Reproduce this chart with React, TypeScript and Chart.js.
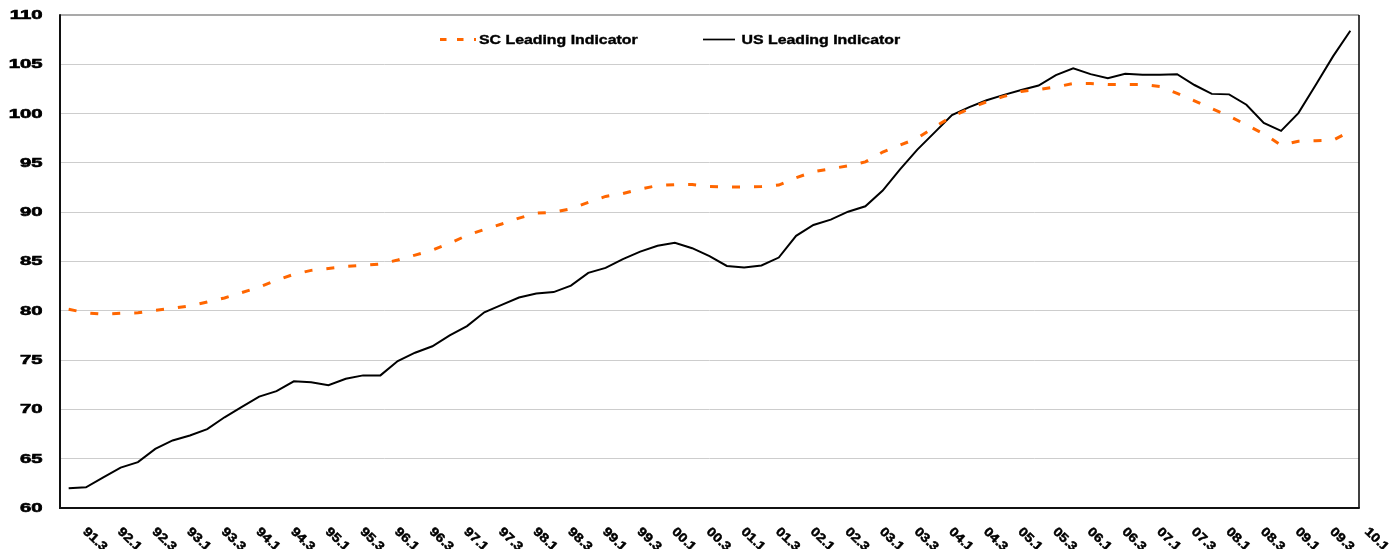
import React, { useEffect, useRef } from 'react';
import { Chart, registerables } from 'chart.js';

Chart.register(...registerables);

const categories: string[] = [
  '91.3', '91.4',
  '92.1', '92.2', '92.3', '92.4',
  '93.1', '93.2', '93.3', '93.4',
  '94.1', '94.2', '94.3', '94.4',
  '95.1', '95.2', '95.3', '95.4',
  '96.1', '96.2', '96.3', '96.4',
  '97.1', '97.2', '97.3', '97.4',
  '98.1', '98.2', '98.3', '98.4',
  '99.1', '99.2', '99.3', '99.4',
  '00.1', '00.2', '00.3', '00.4',
  '01.1', '01.2', '01.3', '01.4',
  '02.1', '02.2', '02.3', '02.4',
  '03.1', '03.2', '03.3', '03.4',
  '04.1', '04.2', '04.3', '04.4',
  '05.1', '05.2', '05.3', '05.4',
  '06.1', '06.2', '06.3', '06.4',
  '07.1', '07.2', '07.3', '07.4',
  '08.1', '08.2', '08.3', '08.4',
  '09.1', '09.2', '09.3', '09.4',
  '10.1',
];

const scValues: number[] = [
  80.15, 79.8, 79.65, 79.75, 79.8, 80.05, 80.25, 80.5, 80.9, 81.3,
  81.85, 82.4, 83.1, 83.7, 84.1, 84.3, 84.5, 84.6, 84.75, 85.15,
  85.65, 86.15, 86.85, 87.65, 88.25, 88.8, 89.4, 89.9, 90.0, 90.35,
  91.0, 91.6, 91.9, 92.35, 92.7, 92.8, 92.8, 92.6, 92.55, 92.55,
  92.6, 92.75, 93.5, 94.1, 94.4, 94.7, 95.1, 96.1, 96.8, 97.5,
  98.65, 99.7, 100.5, 101.2, 101.75, 102.25, 102.45, 102.7, 103.05, 103.05,
  102.95, 102.95, 102.95, 102.75, 102.05, 101.3, 100.5, 99.75, 98.85, 97.95,
  96.8, 97.2, 97.25, 97.3, 98.2,
];

const usValues: number[] = [
  62.0, 62.1, 63.1, 64.1, 64.65, 66.0, 66.85, 67.35, 68.0, 69.2,
  70.25, 71.3, 71.85, 72.85, 72.75, 72.45, 73.1, 73.45, 73.45, 74.9,
  75.75, 76.4, 77.5, 78.45, 79.85, 80.6, 81.35, 81.75, 81.9, 82.55,
  83.85, 84.35, 85.25, 86.0, 86.6, 86.9, 86.35, 85.55, 84.55, 84.4,
  84.6, 85.4, 87.6, 88.7, 89.25, 90.05, 90.6, 92.2, 94.35, 96.35,
  98.1, 99.85, 100.65, 101.35, 101.9, 102.4, 102.85, 103.9, 104.6, 104.0,
  103.6, 104.05, 103.95, 103.95, 104.0, 102.9, 102.0, 101.95, 100.9, 99.05,
  98.25, 100.05, 102.9, 105.8, 108.4,
];

const yTicks: number[] = [60, 65, 70, 75, 80, 85, 90, 95, 100, 105, 110];
const seriesNames: string[] = ['SC Leading Indicator', 'US Leading Indicator'];

const FONT = '"Liberation Sans", Arial, Helvetica, sans-serif';
const ORANGE = '#FF6600';

function heavyText(ctx: CanvasRenderingContext2D, t: string, w: number) {
  ctx.fillText(t, 0, 0);
  ctx.lineWidth = w;
  ctx.strokeStyle = '#000';
  ctx.strokeText(t, 0, 0);
}

const decorPlugin = {
  id: 'decor',
  beforeDatasetsDraw(chart: any) {
    const { ctx, chartArea: a } = chart;
    ctx.save();
    ctx.setLineDash([]);
    ctx.strokeStyle = '#8c8c8c';
    ctx.lineWidth = 1.5;
    ctx.beginPath();
    ctx.moveTo(a.left, a.top);
    ctx.lineTo(a.right, a.top);
    ctx.stroke();
    ctx.strokeStyle = '#000';
    ctx.lineWidth = 1.5;
    ctx.beginPath();
    ctx.moveTo(a.right, a.top);
    ctx.lineTo(a.right, a.bottom);
    ctx.stroke();
    ctx.lineWidth = 2;
    ctx.strokeStyle = '#111';
    ctx.beginPath();
    ctx.moveTo(a.left, a.top - 0.75);
    ctx.lineTo(a.left, a.bottom);
    ctx.lineTo(a.right + 0.75, a.bottom);
    ctx.stroke();
    ctx.restore();
  },
  afterDraw(chart: any) {
    const { ctx } = chart;
    const xs = chart.scales.x;
    const ys = chart.scales.y;
    ctx.save();
    ctx.fillStyle = '#000';

    // y labels
    ctx.font = `bold 12.5px ${FONT}`;
    ctx.textAlign = 'right';
    ctx.textBaseline = 'middle';
    yTicks.forEach((v) => {
      const y = ys.getPixelForValue(v);
      ctx.save();
      ctx.translate(chart.chartArea.left - 17.5, y + 0.5);
      ctx.scale(1.62, 1);
      heavyText(ctx, String(v), 0.6);
      ctx.restore();
    });

    // x labels (every other category), rotated clockwise
    ctx.textAlign = 'left';
    ctx.textBaseline = 'middle';
    ctx.font = `bold 12.5px ${FONT}`;
    categories.forEach((lab, i) => {
      if (i % 2 !== 0) return;
      const x = xs.getPixelForValue(i);
      ctx.save();
      ctx.translate(x + 16, chart.chartArea.bottom + 22);
      ctx.rotate((43 * Math.PI) / 180);
      ctx.scale(1.15, 1);
      heavyText(ctx, lab, 0.5);
      ctx.restore();
    });

    // legend
    const ly = 31.5;
    ctx.lineCap = 'butt';
    ctx.strokeStyle = ORANGE;
    ctx.lineWidth = 3;
    ctx.setLineDash([6.5, 10.5]);
    ctx.beginPath();
    ctx.moveTo(432, ly);
    ctx.lineTo(468, ly);
    ctx.stroke();
    ctx.setLineDash([]);
    ctx.strokeStyle = '#000';
    ctx.lineWidth = 1.7;
    ctx.beginPath();
    ctx.moveTo(695, ly);
    ctx.lineTo(727, ly);
    ctx.stroke();

    ctx.font = `bold 13px ${FONT}`;
    ctx.textAlign = 'left';
    ctx.textBaseline = 'middle';
    [
      { t: seriesNames[0], x: 471 },
      { t: seriesNames[1], x: 733.5 },
    ].forEach(({ t, x }) => {
      ctx.save();
      ctx.translate(x, ly + 1);
      ctx.scale(1.22, 1);
      heavyText(ctx, t, 0.4);
      ctx.restore();
    });
    ctx.restore();
  },
};

export default function App() {
  const canvasRef = useRef<HTMLCanvasElement | null>(null);

  useEffect(() => {
    if (!canvasRef.current) return;
    const chart = new Chart(canvasRef.current, {
      type: 'line',
      data: {
        labels: categories,
        datasets: [
          {
            label: seriesNames[0],
            data: scValues,
            borderColor: ORANGE,
            borderWidth: 3,
            borderDash: [8, 14],
            pointRadius: 0,
            tension: 0,
            fill: false,
          },
          {
            label: seriesNames[1],
            data: usValues,
            borderColor: '#000',
            borderWidth: 2,
            pointRadius: 0,
            tension: 0,
            fill: false,
          },
        ],
      },
      options: {
        responsive: false,
        maintainAspectRatio: false,
        animation: false,
        devicePixelRatio: 1,
        layout: { padding: { left: 52, right: 31, top: 7, bottom: 41 } },
        plugins: {
          legend: { display: false },
          tooltip: { enabled: false },
          title: { display: false },
        },
        scales: {
          x: {
            type: 'category',
            offset: true,
            grid: { display: false, drawTicks: false },
            border: { display: false },
            ticks: { display: false },
            afterFit: (s: any) => {
              s.height = 0;
            },
          },
          y: {
            min: 60,
            max: 110,
            grid: {
              drawTicks: false,
              color: (c: any) =>
                c.tick && (c.tick.value === 60 || c.tick.value === 110)
                  ? 'rgba(0,0,0,0)'
                  : '#cdcdcd',
              lineWidth: 1,
            },
            border: { display: false },
            ticks: { display: false, stepSize: 5 },
            afterFit: (s: any) => {
              s.width = 0;
            },
          },
        },
      },
      plugins: [decorPlugin],
    });
    return () => chart.destroy();
  }, []);

  return (
    <div style={{ width: 1382, height: 541 }}>
      <canvas ref={canvasRef} width={1382} height={541} style={{ display: 'block' }} />
    </div>
  );
}
